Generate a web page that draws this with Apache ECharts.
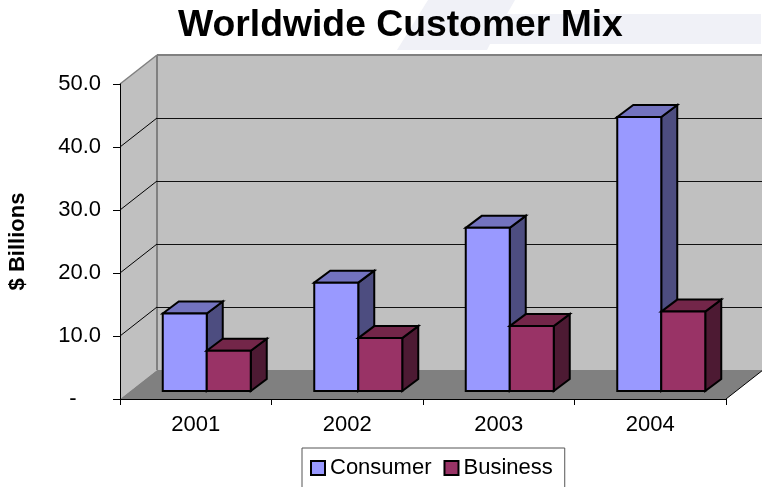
<!DOCTYPE html>
<html>
<head>
<meta charset="utf-8">
<style>html,body{margin:0;padding:0;background:#fff;overflow:hidden}#chart{width:762px;height:487px}</style>
<script src="https://cdn.jsdelivr.net/npm/echarts@6/dist/echarts.min.js"></script>
</head>
<body>
<div id="chart"></div>
<script>
// Revenue by customer type, in $ billions
const categories = ['2001', '2002', '2003', '2004'];
const consumer = [12.3, 17.2, 25.9, 43.5];
const business = [6.4, 8.4, 10.3, 12.6];
const yTicks = [0, 10, 20, 30, 40, 50];

const FONT = '"Liberation Sans", Arial, sans-serif';
// Oblique projection of the chart box and of the bars inside it
const BOX_DX = 37, BOX_DY = -29;
const BAR_SHIFT_X = 11, BAR_SHIFT_Y = -8;
const BAR_DX = 16, BAR_DY = -12, BAR_W = 44;

function poly(points, fill, stroke, width) {
  return {
    type: 'polygon',
    shape: { points },
    style: { fill, stroke: stroke || 'none', lineWidth: width || 0, lineJoin: 'miter' },
    silent: true
  };
}
function seg(x1, y1, x2, y2, stroke, width) {
  return {
    type: 'line',
    shape: { x1, y1, x2, y2 },
    style: { stroke, lineWidth: width, fill: 'none' },
    silent: true
  };
}

// Walls, floor and the gridlines that wrap around the left wall
function renderBox(params, api) {
  const tick = api.value(1);
  const last = yTicks[yTicks.length - 1];
  const left = api.coord([0, tick])[0] - api.size([1, 0])[0] / 2;
  const right = left + api.size([1, 0])[0] * categories.length;
  const y = api.coord([0, tick])[1];
  const backY = Math.round(y + BOX_DY) + 0.5;
  const children = [];
  if (tick === yTicks[0]) {
    const top = api.coord([0, last])[1];
    children.push(
      poly([[left + BOX_DX, top + BOX_DY], [right + BOX_DX, top + BOX_DY], [right + BOX_DX, y + BOX_DY], [left + BOX_DX, y + BOX_DY]], '#c0c0c0'),
      poly([[left, top], [left + BOX_DX, top + BOX_DY], [left + BOX_DX, y + BOX_DY], [left, y]], '#c0c0c0'),
      poly([[left, y], [left + BOX_DX, y + BOX_DY], [right + BOX_DX, y + BOX_DY], [right, y]], '#808080'),
      seg(left + BOX_DX, top + BOX_DY, left + BOX_DX, y + BOX_DY, '#808080', 2),
      seg(right, y, right + BOX_DX, y + BOX_DY, '#000', 1)
    );
  } else if (tick === last) {
    children.push(
      seg(left, y, left + BOX_DX, y + BOX_DY, '#808080', 1.5),
      seg(left + BOX_DX, y + BOX_DY, right + BOX_DX, y + BOX_DY, '#808080', 2)
    );
  } else {
    children.push(
      seg(left, y, left + BOX_DX, y + BOX_DY, '#000', 1),
      seg(left + BOX_DX, backY, right + BOX_DX, backY, '#111', 1)
    );
  }
  return { type: 'group', children };
}

// Builds a cuboid renderer for one series; slot -1 sits left of the band centre, 0 right of it
function cuboid(slot, front, topFace, side) {
  return function (params, api) {
    const base = api.coord([api.value(0), 0]);
    const head = api.coord([api.value(0), api.value(1)]);
    const x0 = base[0] + BAR_SHIFT_X + slot * BAR_W;
    const x1 = x0 + BAR_W;
    const y0 = base[1] + BAR_SHIFT_Y;
    const y1 = head[1] + BAR_SHIFT_Y;
    const lw = 2;
    return {
      type: 'group',
      children: [
        poly([[x1, y1], [x1 + BAR_DX, y1 + BAR_DY], [x1 + BAR_DX, y0 + BAR_DY], [x1, y0]], side, '#000', lw),
        poly([[x0, y1], [x0 + BAR_DX, y1 + BAR_DY], [x1 + BAR_DX, y1 + BAR_DY], [x1, y1]], topFace, '#000', lw),
        poly([[x0, y0], [x0, y1], [x1, y1], [x1, y0]], front, '#000', lw)
      ]
    };
  };
}

const chart = echarts.init(document.getElementById('chart'), null, { renderer: 'canvas' });
chart.setOption({
  animation: false,
  backgroundColor: '#fff',
  title: {
    text: 'Worldwide Customer Mix',
    left: 178,
    top: 7,
    padding: 0,
    textStyle: { fontFamily: FONT, fontSize: 37.3, fontWeight: 'bold', color: '#000' }
  },
  graphic: [
    {
      type: 'polygon', z: -10, silent: true,
      shape: { points: [[428, 0], [515, 0], [507, 14], [761, 14], [761, 44], [490, 44], [487, 50], [397, 50]] },
      style: { fill: '#f0f1f7' }
    }
  ],
  legend: {
    left: 302,
    top: 448,
    padding: [9, 12, 9, 8],
    itemGap: 12,
    itemWidth: 14,
    itemHeight: 14,
    borderColor: '#555',
    borderWidth: 1,
    backgroundColor: '#fff',
    icon: 'rect',
    data: ['Consumer', 'Business'],
    textStyle: { fontFamily: FONT, fontSize: 22, color: '#000' }
  },
  grid: { left: 120, right: 36, top: 84, bottom: 88, containLabel: false, outerBoundsMode: 'none' },
  xAxis: {
    type: 'category',
    data: categories,
    z: 5,
    axisLine: { lineStyle: { color: '#000', width: 1 } },
    axisTick: { show: true, length: 6, alignWithLabel: false, lineStyle: { color: '#000' } },
    axisLabel: { fontFamily: FONT, fontSize: 22, color: '#000', margin: 15 }
  },
  yAxis: {
    type: 'value',
    min: 0,
    max: 50,
    interval: 10,
    z: 5,
    name: '$ Billions',
    nameLocation: 'middle',
    nameRotate: 90,
    nameGap: 91,
    nameTextStyle: { fontFamily: FONT, fontSize: 22, fontWeight: 'bold', color: '#000' },
    splitLine: { show: false },
    axisLine: { show: true, lineStyle: { color: '#000', width: 1 } },
    axisTick: { show: true, length: 7, lineStyle: { color: '#000' } },
    axisLabel: {
      fontFamily: FONT, fontSize: 22, color: '#000', margin: 19,
      formatter: v => (v === 0 ? '-    ' : v.toFixed(1))
    }
  },
  series: [
    {
      name: 'Chart box',
      type: 'custom',
      silent: true,
      z: 1,
      clip: false,
      renderItem: renderBox,
      data: yTicks.map(t => [0, t])
    },
    {
      name: 'Consumer',
      type: 'custom',
      z: 2,
      clip: false,
      itemStyle: { color: '#9999ff', borderColor: '#000', borderWidth: 1.5 },
      renderItem: cuboid(-1, '#9999ff', '#7373bf', '#4d4d80'),
      data: consumer.map((v, i) => [i, v])
    },
    {
      name: 'Business',
      type: 'custom',
      z: 3,
      clip: false,
      itemStyle: { color: '#993366', borderColor: '#000', borderWidth: 1.5 },
      renderItem: cuboid(0, '#993366', '#732649', '#4d1a33'),
      data: business.map((v, i) => [i, v])
    }
  ]
});
</script>
</body>
</html>
